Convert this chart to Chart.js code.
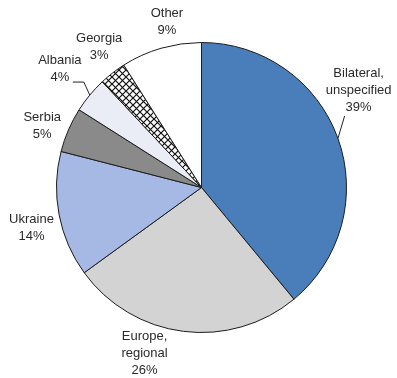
<!DOCTYPE html>
<html>
<head>
<meta charset="utf-8">
<script src="https://cdn.jsdelivr.net/npm/chart.js@4"></script>
<style>
    html, body { margin: 0; padding: 0; background: #fff; }
    #box { width: 397px; height: 378px; }
</style>
</head>
<body>
<div id="box"><canvas id="grafico-destinos"></canvas></div>
<script>
const categories = [["Bilateral,", "unspecified"], ["Europe,", "regional"], ["Ukraine"], ["Serbia"], ["Albania"], ["Georgia"], ["Other"]];
const shares = [39, 26, 14, 5, 4, 3, 9];

// label placement: shift from the point just outside each slice, plus optional leader line
const labelNudge = [[0, -41], [-36, 0], [-6, 9], [-6, 5], [-13, -12], [0, -9], [12, -5]];
const leaders = {
    0: [[-14, 26]],
    4: [[24, 13], [13, 13]]
};

function hatch() {
    const s = 7;
    const c = document.createElement("canvas");
    c.width = s; c.height = s;
    const ctx = c.getContext("2d");
    ctx.fillStyle = "#fff";
    ctx.fillRect(0, 0, s, s);
    ctx.strokeStyle = "#111";
    ctx.lineWidth = 1.2;
    ctx.beginPath();
    ctx.moveTo(0, 0); ctx.lineTo(s, s);
    ctx.moveTo(0, s); ctx.lineTo(s, 0);
    ctx.stroke();
    return ctx.createPattern(c, "repeat");
}

const sliceLabels = {
    id: "sliceLabels",
    afterDatasetsDraw(chart) {
        const ctx = chart.ctx;
        const arcs = chart.getDatasetMeta(0).data;
        ctx.save();
        ctx.font = "13px 'Liberation Sans', Arial, sans-serif";
        ctx.fillStyle = "#2a2a2a";
        ctx.strokeStyle = "#222";
        ctx.lineWidth = 1;
        ctx.textAlign = "center";
        ctx.textBaseline = "middle";
        arcs.forEach((arc, i) => {
            const mid = (arc.startAngle + arc.endAngle) / 2;
            const r = arc.outerRadius + 22;
            const x = arc.x + Math.cos(mid) * r + labelNudge[i][0];
            const y = arc.y + Math.sin(mid) * r + labelNudge[i][1];
            const lines = categories[i].concat([shares[i] + "%"]);
            const lh = 17;
            lines.forEach((t, k) => {
                ctx.fillText(t, x, y + (k - (lines.length - 1) / 2) * lh);
            });
            if (leaders[i]) {
                ctx.beginPath();
                ctx.moveTo(arc.x + Math.cos(mid) * arc.outerRadius, arc.y + Math.sin(mid) * arc.outerRadius);
                leaders[i].forEach(p => ctx.lineTo(x + p[0], y + p[1]));
                ctx.stroke();
            }
        });
        ctx.restore();
    }
};

const config = {
    type: 'pie',
    data: {
        labels: categories.map(c => c.join(" ")),
        datasets: [{
            data: shares,
            backgroundColor: ['#4a7ebb', '#d3d3d3', '#a6b8e4', '#8a8a8a', '#eaedf5', hatch(), '#ffffff'],
            borderColor: '#1c1c1c',
            borderWidth: 1
        }]
    },
    options: {
        responsive: true,
        maintainAspectRatio: false,
        animation: false,
        layout: {
            padding: { left: 56, right: 50, top: 42, bottom: 45 }
        },
        plugins: {
            legend: { display: false },
            tooltip: { enabled: false }
        }
    },
    plugins: [sliceLabels]
};

new Chart(document.getElementById("grafico-destinos"), config);
</script>
</body>
</html>
